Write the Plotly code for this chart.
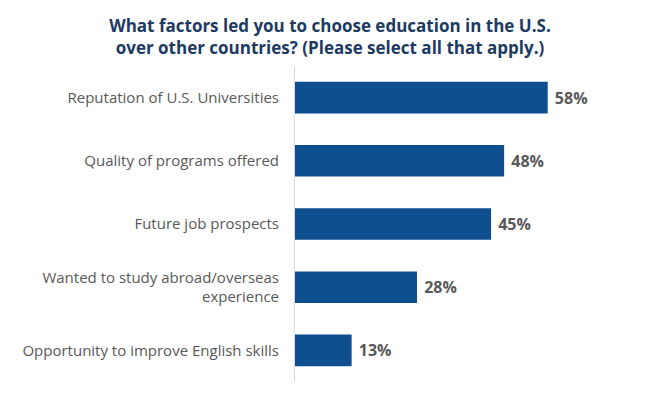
import plotly.graph_objects as go

categories = [
    "Reputation of U.S. Universities",
    "Quality of programs offered",
    "Future job prospects",
    "Wanted to study abroad/overseas<br>experience",
    "Opportunity to improve English skills",
]
values = [58, 48, 45, 28, 13]
value_labels = [" 58%", " 48%", " 45%", " 28%", " 13%"]

title_text = ("What factors led you to choose education in the U.S.<br>"
              "over other countries? (Please select all that apply.)")

fig = go.Figure(go.Bar(
    x=values,
    y=categories,
    orientation="h",
    marker=dict(color="#0E4F8F", line=dict(width=0)),
    width=0.5,
    text=value_labels,
    textposition="outside",
    cliponaxis=False,
    textfont=dict(family="Open Sans", size=16, color="#595959", weight="bold"),
))

fig.update_layout(
    width=660, height=404,
    margin=dict(l=295, r=60, t=66, b=22),
    paper_bgcolor="white", plot_bgcolor="white",
    showlegend=False,
    title=dict(
        text=title_text,
        x=0.5, xanchor="center", xref="container",
        y=0.922, yanchor="middle", yref="container",
        font=dict(family="Open Sans", size=17, color="#1C3A62", weight="bold"),
    ),
    xaxis=dict(range=[0, 70], visible=False),
    yaxis=dict(
        autorange="reversed",
        showline=True, linecolor="#D9D9D9", linewidth=1,
        showgrid=False, ticks="", ticklabelstandoff=12,
        tickfont=dict(family="Open Sans", size=15, color="#595959"),
    ),
    bargap=0.5,
)

fig.write_html("out.html")
